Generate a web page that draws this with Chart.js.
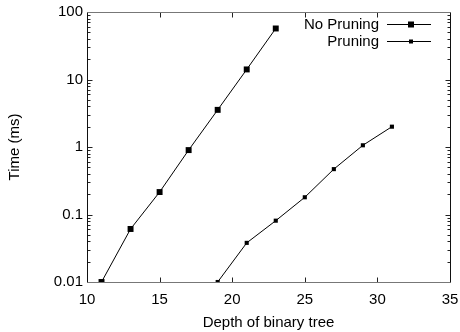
<!DOCTYPE html>
<html lang="en">
<head>
  <meta charset="UTF-8">
  <title>Time vs depth of binary tree</title>
  <script src="https://cdn.jsdelivr.net/npm/chart.js"></script>
  <style>
    html, body {
      margin: 0;
      padding: 0;
      background: #fff;
    }
    #wrap {
      width: 460px;
      height: 332px;
    }
  </style>
</head>
<body>
  <div id="wrap"><canvas id="chart" width="460" height="332"></canvas></div>

  <script>
    // values
    const depthNoPruning = [11, 13, 15, 17, 19, 21, 23];
    const timeNoPruning = [0.01, 0.061, 0.215, 0.9, 3.55, 14.1, 57];
    const depthPruning = [19, 21, 23, 25, 27, 29, 31];
    const timePruning = [0.01, 0.038, 0.081, 0.18, 0.47, 1.06, 2.0];
    const xTicks = [10, 15, 20, 25, 30, 35];
    const yTicks = [0.01, 0.1, 1, 10, 100];
    const seriesNames = ['No Pruning', 'Pruning'];

    const FONT = 'Liberation Sans, Arial, Helvetica, sans-serif';

    function toPoints(xs, ys) {
      return xs.map((x, i) => ({ x: x, y: ys[i] }));
    }

    // frame, inward tick marks and the legend, gnuplot style
    const framePlugin = {
      id: 'frame',
      afterDatasetsDraw(chart) {
        const ctx = chart.ctx;
        const a = chart.chartArea;
        const xs = chart.scales.x, ys = chart.scales.y;
        const L = Math.round(a.left) + 0.5, R = Math.round(a.right) + 0.5;
        const T = Math.round(a.top) + 0.5, B = Math.round(a.bottom) + 0.5;
        ctx.save();
        ctx.lineWidth = 1;

        // ticks
        ctx.strokeStyle = '#222';
        ctx.beginPath();
        xTicks.slice(1, -1).forEach(v => {
          const px = Math.round(xs.getPixelForValue(v)) + 0.5;
          ctx.moveTo(px, B); ctx.lineTo(px, B - 5);
          ctx.moveTo(px, T); ctx.lineTo(px, T + 5);
        });
        for (let d = 0; d < yTicks.length; d++) {
          const base = yTicks[d];
          const major = Math.round(ys.getPixelForValue(base)) + 0.5;
          if (d > 0 && d < yTicks.length - 1) {
            ctx.moveTo(L, major); ctx.lineTo(L + 5, major);
            ctx.moveTo(R, major); ctx.lineTo(R - 5, major);
          }
          if (d === yTicks.length - 1) break;
          for (let m = 2; m <= 9; m++) {
            const py = Math.round(ys.getPixelForValue(base * m)) + 0.5;
            ctx.moveTo(L, py); ctx.lineTo(L + 3, py);
            ctx.moveTo(R, py); ctx.lineTo(R - 3, py);
          }
        }
        ctx.stroke();

        // frame
        ctx.strokeStyle = '#777';
        ctx.beginPath();
        ctx.moveTo(L, T); ctx.lineTo(R, T);
        ctx.moveTo(L, B); ctx.lineTo(R, B);
        ctx.stroke();
        ctx.strokeStyle = '#111';
        ctx.beginPath();
        ctx.moveTo(L, T); ctx.lineTo(L, B);
        ctx.moveTo(R, T); ctx.lineTo(R, B);
        ctx.stroke();

        // legend
        ctx.font = '15px ' + FONT;
        ctx.fillStyle = '#000';
        ctx.textAlign = 'right';
        ctx.textBaseline = 'middle';
        const rows = [24, 41];
        const sizes = [6, 4];
        seriesNames.forEach((name, i) => {
          const y = rows[i];
          ctx.fillText(name, 379, y + 0.5);
          ctx.strokeStyle = '#000';
          ctx.beginPath();
          ctx.moveTo(387, y + 0.5); ctx.lineTo(431, y + 0.5);
          ctx.stroke();
          const s = sizes[i];
          ctx.fillRect(411 - s / 2, y + 0.5 - s / 2, s, s);
        });
        ctx.restore();
      }
    };

    new Chart(document.getElementById('chart'), {
      type: 'scatter',
      data: {
        datasets: [
          {
            label: seriesNames[0],
            data: toPoints(depthNoPruning, timeNoPruning),
            showLine: true,
            borderColor: '#000',
            backgroundColor: '#000',
            borderWidth: 1,
            pointStyle: 'rect',
            pointRadius: 4.2,
            pointBorderWidth: 0,
            pointBackgroundColor: '#000'
          },
          {
            label: seriesNames[1],
            data: toPoints(depthPruning, timePruning),
            showLine: true,
            borderColor: '#000',
            backgroundColor: '#000',
            borderWidth: 1,
            pointStyle: 'rect',
            pointRadius: 2.9,
            pointBorderWidth: 0,
            pointBackgroundColor: '#000'
          }
        ]
      },
      options: {
        responsive: false,
        animation: false,
        events: [],
        layout: { padding: { top: 12, right: 10, left: 0, bottom: 0 } },
        plugins: {
          legend: { display: false },
          tooltip: { enabled: false }
        },
        scales: {
          x: {
            type: 'linear',
            min: 10,
            max: 35,
            grid: { display: false, drawTicks: false, tickLength: 0 },
            border: { display: false },
            ticks: {
              stepSize: 5,
              padding: 9,
              color: '#000',
              font: { family: FONT, size: 15 }
            },
            afterBuildTicks: s => { s.ticks = xTicks.map(v => ({ value: v })); },
            afterFit: s => {
              s.height = 50;
              s.paddingLeft = 0;
              s.paddingRight = 0;
            },
            title: {
              display: true,
              text: 'Depth of binary tree',
              color: '#000',
              font: { family: FONT, size: 15 },
              padding: { top: 0, bottom: 0 }
            }
          },
          y: {
            type: 'logarithmic',
            min: 0.01,
            max: 100,
            grid: { display: false, drawTicks: false, tickLength: 0 },
            border: { display: false },
            ticks: {
              padding: 4,
              color: '#000',
              font: { family: FONT, size: 15 },
              callback: v => String(v)
            },
            afterBuildTicks: s => { s.ticks = yTicks.map(v => ({ value: v })); },
            afterFit: s => {
              s.width = 87;
              s.paddingTop = 0;
              s.paddingBottom = 0;
            },
            title: {
              display: true,
              text: 'Time (ms)',
              color: '#000',
              font: { family: FONT, size: 15 },
              padding: { top: 6, bottom: 0 }
            }
          }
        }
      },
      plugins: [framePlugin]
    });
  </script>
</body>
</html>
